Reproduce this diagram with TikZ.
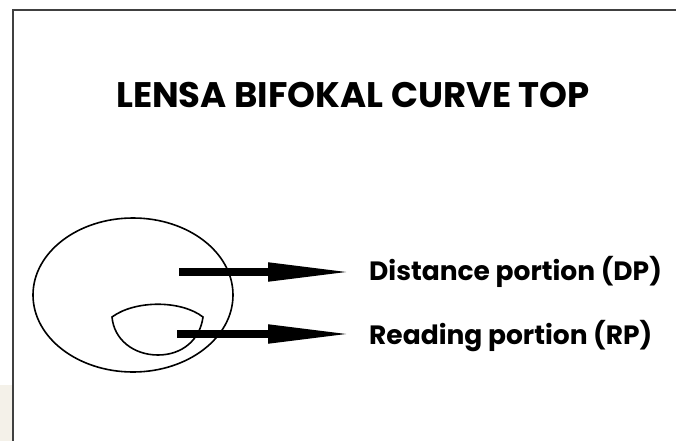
\documentclass[tikz,border=0pt]{standalone}
\usepackage{fontspec}
\setmainfont{Poppins}
\usepackage{tikz}
\usetikzlibrary{positioning,arrows.meta,shapes.geometric}
\definecolor{paper}{RGB}{244,241,233}

\begin{document}
\begin{tikzpicture}[x=1pt, y=-1pt,
  frame/.style={draw=black!75, line width=2pt},
  lens/.style={draw, line width=1.6pt},
  label/.style={anchor=west, inner sep=0pt, font=\bfseries\fontsize{26.5}{30}\selectfont},
  arr/.style={-{Triangle[length=87pt, width=17pt]}, line width=8pt, shorten >=14pt}
]
\useasboundingbox (0,0) rectangle (676,441);
\fill[paper] (0,385) rectangle (12,441);
\draw[frame] (676,10) -- (13,10) -- (13,441);
\node[font=\bfseries\fontsize{35.5}{40}\selectfont, inner sep=0pt] (title) at (353,95) {LENSA BIFOKAL CURVE TOP};
% lens outline and the reading segment
\node[lens, ellipse, minimum width=200pt, minimum height=154pt, inner sep=0pt] (lensa) at (133,295) {};
\draw[lens] (112,317) .. controls (135,300) and (181,300) .. (203,317)
  .. controls (200,340) and (182,355) .. (158,355)
  .. controls (134,355) and (114,340) .. (112,317) -- cycle;
\coordinate (dpstart) at (179,272);
\coordinate (rpstart) at (177,334);
\node[label] (dp) at (369,272) {Distance portion (DP)};
\node[label] (rp) at (369,336) {Reading portion (RP)};
\draw[arr] (dpstart) -- (dp.west);
\draw[arr] (rpstart) -- (rpstart -| rp.west);
\end{tikzpicture}
\end{document}
